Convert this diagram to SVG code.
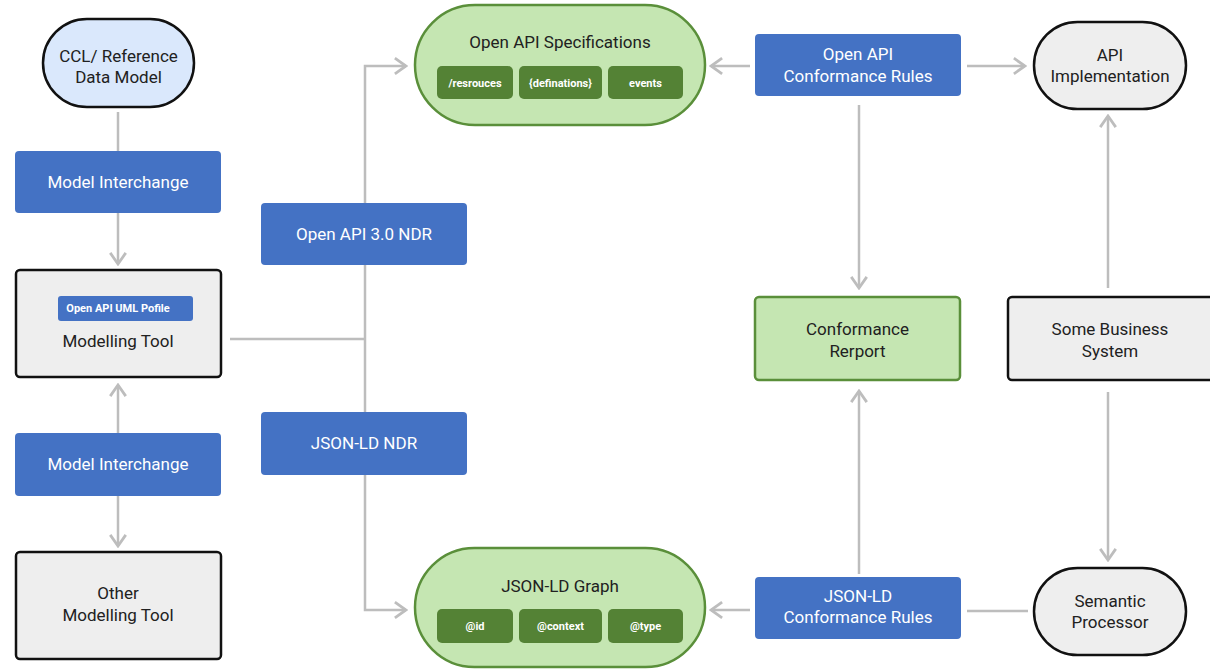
<svg xmlns="http://www.w3.org/2000/svg" width="1210" height="671" viewBox="0 0 1210 671">
<style>
text{font-family:Roboto,"Liberation Sans",sans-serif;text-anchor:middle}
.lbl{font-size:17px;fill:#212121}
.wl{font-size:17px;fill:#ffffff}
.sm{font-size:11px;font-weight:bold;fill:#ffffff}
.blue{fill:#4472c4}
.gray{fill:#eeeeee;stroke:#111111;stroke-width:2.5}
.lb{fill:#dae8fc;stroke:#111111;stroke-width:2.5}
.grn{fill:#c5e6b2;stroke:#5a8f3a;stroke-width:2.5}
.dg{fill:#548235}
.c{fill:none;stroke:#bdbdbd;stroke-width:2.5}
</style>
<defs>
<marker id="ah" markerUnits="userSpaceOnUse" markerWidth="16" markerHeight="20" viewBox="-12 -9 14 18" refX="0" refY="0" orient="auto">
<path d="M-10,-7 L0,0 L-10,7" fill="none" stroke="#bdbdbd" stroke-width="2.5"/>
</marker>
</defs>
<rect width="1210" height="671" fill="#ffffff"/>
<g id="connectors">
<line class="c" x1="118" y1="112" x2="118" y2="151"/>
<line class="c" x1="118" y1="213" x2="118" y2="264" marker-end="url(#ah)"/>
<line class="c" x1="118" y1="433" x2="118" y2="385" marker-end="url(#ah)"/>
<line class="c" x1="118" y1="496" x2="118" y2="546" marker-end="url(#ah)"/>
<line class="c" x1="230" y1="339" x2="365" y2="339"/>
<polyline class="c" points="365,203 365,66 406,66" marker-end="url(#ah)"/>
<line class="c" x1="365" y1="265" x2="365" y2="412"/>
<polyline class="c" points="365,475 365,610 406,610" marker-end="url(#ah)"/>
<line class="c" x1="750" y1="66" x2="711" y2="66" marker-end="url(#ah)"/>
<line class="c" x1="967" y1="66" x2="1025" y2="66" marker-end="url(#ah)"/>
<line class="c" x1="859" y1="105" x2="859" y2="288" marker-end="url(#ah)"/>
<line class="c" x1="859" y1="574" x2="859" y2="391" marker-end="url(#ah)"/>
<line class="c" x1="1108" y1="288" x2="1108" y2="116" marker-end="url(#ah)"/>
<line class="c" x1="1108" y1="392" x2="1108" y2="560" marker-end="url(#ah)"/>
<line class="c" x1="1028" y1="611" x2="967" y2="611"/>
<line class="c" x1="750" y1="610" x2="711" y2="610" marker-end="url(#ah)"/>
</g>
<g id="ccl">
<rect class="lb" x="43" y="19" width="151" height="88" rx="44"/>
<text class="lbl" x="118.5" y="62">CCL/ Reference</text>
<text class="lbl" x="118.5" y="83">Data Model</text>
</g>
<g id="mi1">
<rect class="blue" x="15" y="151" width="206" height="62" rx="4"/>
<text class="wl" x="118" y="188">Model Interchange</text>
</g>
<g id="modelling-tool">
<rect class="gray" x="16" y="270" width="205" height="107" rx="4"/>
<rect class="blue" x="58" y="296" width="135" height="25" rx="3"/>
<text class="sm" x="118" y="312">Open API UML Pofile</text>
<text class="lbl" x="118" y="347">Modelling Tool</text>
</g>
<g id="mi2">
<rect class="blue" x="15" y="433" width="206" height="63" rx="4"/>
<text class="wl" x="118" y="470">Model Interchange</text>
</g>
<g id="other-tool">
<rect class="gray" x="16" y="552" width="205" height="107" rx="4"/>
<text class="lbl" x="118" y="599">Other</text>
<text class="lbl" x="118" y="621">Modelling Tool</text>
</g>
<g id="openapi-ndr">
<rect class="blue" x="261" y="203" width="206" height="62" rx="4"/>
<text class="wl" x="364" y="240">Open API 3.0 NDR</text>
</g>
<g id="jsonld-ndr">
<rect class="blue" x="261" y="412" width="206" height="63" rx="4"/>
<text class="wl" x="364" y="449">JSON-LD NDR</text>
</g>
<g id="openapi-spec">
<rect class="grn" x="415" y="5" width="290" height="120" rx="60"/>
<text class="lbl" x="560" y="48">Open API Specifications</text>
<rect class="dg" x="437" y="66" width="76" height="33" rx="5"/>
<text class="sm" x="475" y="87">/resrouces</text>
<rect class="dg" x="519" y="66" width="83" height="33" rx="5"/>
<text class="sm" x="560.5" y="87">{definations}</text>
<rect class="dg" x="608" y="66" width="75" height="33" rx="5"/>
<text class="sm" x="645.5" y="87">events</text>
</g>
<g id="jsonld-graph">
<rect class="grn" x="415" y="548" width="290" height="119" rx="59.5"/>
<text class="lbl" x="560" y="592">JSON-LD Graph</text>
<rect class="dg" x="437" y="609" width="76" height="34" rx="5"/>
<text class="sm" x="475" y="630">@id</text>
<rect class="dg" x="519" y="609" width="83" height="34" rx="5"/>
<text class="sm" x="560.5" y="630">@context</text>
<rect class="dg" x="608" y="609" width="75" height="34" rx="5"/>
<text class="sm" x="645.5" y="630">@type</text>
</g>
<g id="openapi-rules">
<rect class="blue" x="755" y="34" width="206" height="62" rx="4"/>
<text class="wl" x="858" y="60">Open API</text>
<text class="wl" x="858" y="82">Conformance Rules</text>
</g>
<g id="api-impl">
<rect class="gray" x="1034" y="22" width="152" height="87" rx="43.5"/>
<text class="lbl" x="1110" y="61">API</text>
<text class="lbl" x="1110" y="82">Implementation</text>
</g>
<g id="conformance-report">
<rect class="grn" x="755" y="297" width="205" height="83" rx="4"/>
<text class="lbl" x="857.5" y="335">Conformance</text>
<text class="lbl" x="857.5" y="357">Rerport</text>
</g>
<g id="business-system">
<rect class="gray" x="1008" y="297" width="210" height="83" rx="4"/>
<text class="lbl" x="1110" y="335">Some Business</text>
<text class="lbl" x="1110" y="357">System</text>
</g>
<g id="jsonld-rules">
<rect class="blue" x="755" y="577" width="206" height="62" rx="4"/>
<text class="wl" x="858" y="602">JSON-LD</text>
<text class="wl" x="858" y="623">Conformance Rules</text>
</g>
<g id="semantic-processor">
<rect class="gray" x="1034" y="568" width="152" height="87" rx="43.5"/>
<text class="lbl" x="1110" y="607">Semantic</text>
<text class="lbl" x="1110" y="628">Processor</text>
</g>
</svg>
